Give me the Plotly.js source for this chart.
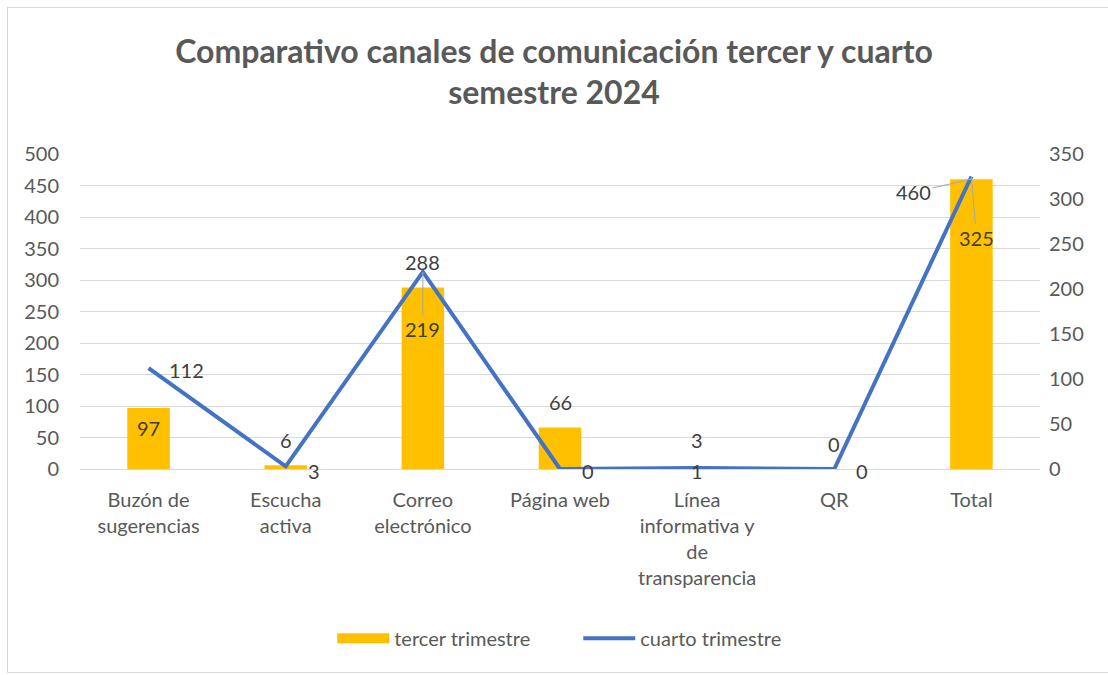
<!DOCTYPE html>
<html><head><meta charset="utf-8">
<script src="https://cdn.plot.ly/plotly-3.0.1.min.js"></script>
<style>
html,body{margin:0;padding:0;background:#fff;}
#wrap{position:relative;width:1108px;height:675px;}
#chart{width:1108px;height:675px;}
#frame{position:absolute;left:7px;top:7px;width:1110px;height:664px;border:1.5px solid #d9d9d9;pointer-events:none;}
</style>
</head><body>
<div id="wrap"><div id="chart"></div><div id="frame"></div></div>
<script>
const categories = ["Buzón de<br>sugerencias","Escucha<br>activa","Correo<br>electrónico","Página web","Línea<br>informativa y<br>de<br>transparencia","QR","Total"];
const tercer = [97, 6, 288, 66, 3, 0, 460];
const cuarto = [112, 3, 219, 0, 1, 0, 325];
const seriesNames = ["tercer trimestre","cuarto trimestre"];

const FONT = "Lato, 'Open Sans', sans-serif";
const GRAY = "#595959";
const LBL = "#404040";
const FS = 20;

const bar = {type:"bar", x:categories, y:tercer, name:seriesNames[0], marker:{color:"#FFC000"}, yaxis:"y", hoverinfo:"skip", showlegend:false};
// legend entry for the bars, drawn as a wide swatch like the original
const barLegend = {type:"scatter", mode:"lines", x:[null], y:[null], name:seriesNames[0], line:{color:"#FFC000", width:14}, yaxis:"y", hoverinfo:"skip"};
const line = {type:"scatter", mode:"lines", x:categories, y:cuarto, name:seriesNames[1], yaxis:"y2", line:{color:"#4472C4", width:4}, hoverinfo:"skip"};

// label placement (offsets only, values come from arrays)
const barOff = [
  {ys:-20}, {ys:25}, {ys:26}, {ys:25}, {ys:27}, {ys:25}, {arrow:true, ax:-58, ay:13}
];
const lineOff = [
  {xs:18, ys:-2, xa:"left"}, {xs:20, ys:-5, xa:"left"}, {arrow:true, ax:0, ay:57},
  {xs:20, ys:-2, xa:"left"}, {xs:0, ys:-3}, {xs:20, ys:-2, xa:"left"}, {arrow:true, ax:5, ay:61}
];
const ann = [];
function mk(x, y, yref, v, o){
  const a = {x:x, y:y, xref:"x", yref:yref, text:String(v), font:{family:FONT, size:FS, color:LBL}, showarrow:false};
  if(o.arrow){ Object.assign(a,{showarrow:true, arrowhead:0, arrowwidth:1, arrowcolor:"#a6a6a6", ax:o.ax, ay:o.ay, standoff:0}); }
  else { a.xshift=o.xs||0; a.yshift=o.ys||0; if(o.xa) a.xanchor=o.xa; }
  return a;
}
categories.forEach((c,i)=>{ ann.push(mk(c, tercer[i], "y", tercer[i], barOff[i])); });
categories.forEach((c,i)=>{ ann.push(mk(c, cuarto[i], "y2", cuarto[i], lineOff[i])); });

const layout = {
  width:1108, height:675,
  margin:{l:80, r:68, t:154, b:206},
  paper_bgcolor:"#fff", plot_bgcolor:"#fff",
  font:{family:FONT, size:FS, color:GRAY},
  title:{text:"<b>Comparativo canales de comunicación tercer y cuarto<br>semestre 2024</b>", font:{family:FONT, size:32, color:GRAY}, x:0.5, xanchor:"center", y:0.907, yanchor:"top", yref:"container"},
  bargap:0.69,
  showlegend:true,
  legend:{orientation:"h", x:0.519, xanchor:"center", y:-0.537, yanchor:"middle", font:{family:FONT, size:FS, color:GRAY}, itemwidth:52, entrywidth:179, traceorder:"normal"},
  xaxis:{type:"category", showgrid:false, showline:false, zeroline:false, ticks:"", tickfont:{size:FS, color:GRAY}, tickangle:0, ticklabelstandoff:17, automargin:false},
  yaxis:{range:[0,500], dtick:50, showgrid:true, gridcolor:"#d9d9d9", gridwidth:1, zeroline:true, zerolinecolor:"#d9d9d9", showline:false, ticks:"", tickfont:{size:FS, color:GRAY}, ticklabelstandoff:20, automargin:false},
  yaxis2:{range:[0,350], dtick:50, overlaying:"y", side:"right", showgrid:false, zeroline:false, showline:false, ticks:"", tickfont:{size:FS, color:GRAY}, ticklabelstandoff:8, automargin:false},
  annotations:ann
};
Plotly.newPlot("chart", [bar, barLegend, line], layout, {displayModeBar:false, staticPlot:true});
</script>
</body></html>
